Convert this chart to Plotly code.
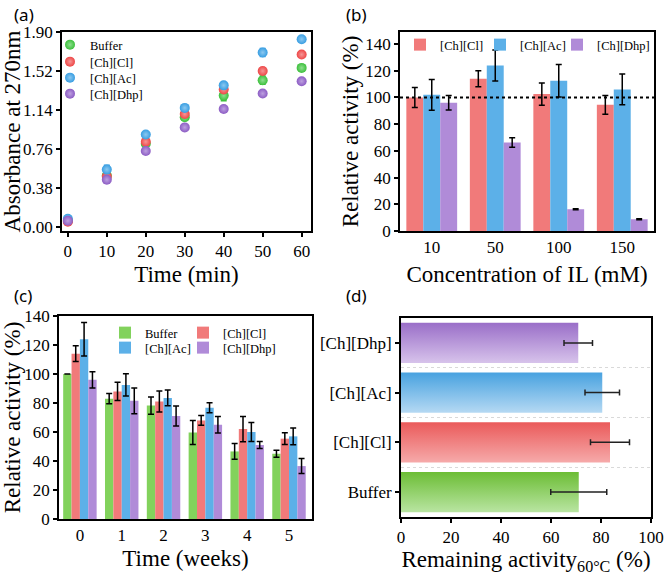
import plotly.graph_objects as go

FONT = "Liberation Serif"

# (a) absorbance at 270 nm vs time
time_min = [0, 10, 20, 30, 40, 50, 60]
abs_buffer = [0.06, 0.50, 0.81, 1.07, 1.28, 1.43, 1.55]
abs_cl = [0.05, 0.49, 0.83, 1.10, 1.34, 1.52, 1.68]
abs_ac = [0.08, 0.56, 0.90, 1.16, 1.38, 1.70, 1.83]
abs_dhp = [0.06, 0.46, 0.74, 0.97, 1.15, 1.30, 1.42]
abs_buffer_err = [0.01, 0.02, 0.02, 0.03, 0.05, 0.04, 0.02]
abs_cl_err = [0.01, 0.02, 0.02, 0.03, 0.03, 0.03, 0.02]
abs_ac_err = [0.02, 0.04, 0.02, 0.02, 0.02, 0.04, 0.02]
abs_dhp_err = [0.01, 0.02, 0.02, 0.02, 0.02, 0.02, 0.02]

# (b) relative activity vs IL concentration
conc_labels = ["10", "50", "100", "150"]
conc_cl = [100, 114, 102.5, 94.5]
conc_cl_err = [7.5, 6, 8.4, 7]
conc_ac = [102, 124, 112.5, 106]
conc_ac_err = [11.5, 11.6, 12.2, 11.5]
conc_dhp = [96, 66.3, 16.3, 8.8]
conc_dhp_err = [5.4, 3.5, 0.4, 0.4]

# (c) relative activity vs storage time
weeks = [0, 1, 2, 3, 4, 5]
wk_buffer = [100, 83, 78.2, 59.7, 46.6, 45]
wk_buffer_err = [0, 3.5, 6, 8.3, 5.4, 2.4]
wk_cl = [114, 88, 81, 68, 62, 55.4]
wk_cl_err = [5.4, 6.3, 7.2, 3.4, 8.7, 4]
wk_ac = [124, 92.5, 83.5, 76.7, 60, 57]
wk_ac_err = [11.6, 7.7, 5.4, 3.5, 6.5, 5.8]
wk_dhp = [96, 81.5, 71, 65, 51, 36.5]
wk_dhp_err = [5.6, 8.9, 6.9, 5.7, 2.4, 5.2]

# (d) remaining activity at 60 C
rem_labels = ["Buffer", "[Ch][Cl]", "[Ch][Ac]", "[Ch][Dhp]"]
rem_values = [71.1, 83.6, 80.5, 70.9]
rem_err = [11.2, 7.8, 6.9, 5.7]

# colours
marker_cols = {"Buffer": "#3cc03c", "[Ch][Cl]": "#ee4646", "[Ch][Ac]": "#389ee2", "[Ch][Dhp]": "#8c5cc4"}
marker_tint = {"Buffer": "#8fdf8f", "[Ch][Cl]": "#f59696", "[Ch][Ac]": "#8cc8f0", "[Ch][Dhp]": "#bda0e0"}
bar_cols = {"Buffer": "#82d25c", "[Ch][Cl]": "#f17a7a", "[Ch][Ac]": "#5cb0e8", "[Ch][Dhp]": "#b08bd8"}
grad_cols = {"Buffer": ("#b9e5a2", "#6cbd35"), "[Ch][Cl]": ("#f6aaaa", "#ea5a5a"),
             "[Ch][Ac]": ("#b5d9f3", "#48a2e0"), "[Ch][Dhp]": ("#d7c3eb", "#9a6ec8")}

W, H = 664, 576


def fx(p):
    return p / W


def fy(p):
    return 1 - p / H


fig = go.Figure()

# ---- (a)  one legend per entry so the rows can sit close together
a_series = [("Buffer", abs_buffer, abs_buffer_err), ("[Ch][Cl]", abs_cl, abs_cl_err),
            ("[Ch][Ac]", abs_ac, abs_ac_err), ("[Ch][Dhp]", abs_dhp, abs_dhp_err)]
for k, (name, ys, es) in enumerate(a_series):
    fig.add_trace(go.Scatter(
        x=time_min, y=ys, mode="markers", name=name, legend="legend" + ("" if k == 0 else str(k + 1)),
        marker=dict(size=10, color=marker_cols[name], line=dict(width=0),
                    gradient=dict(type="radial", color=marker_tint[name])),
        error_y=dict(type="data", array=es, color=marker_cols[name], thickness=1.5, width=3),
        xaxis="x", yaxis="y"))

# ---- (b)
b_series = [("[Ch][Cl]", conc_cl, conc_cl_err), ("[Ch][Ac]", conc_ac, conc_ac_err),
            ("[Ch][Dhp]", conc_dhp, conc_dhp_err)]
for k, (name, ys, es) in enumerate(b_series):
    fig.add_trace(go.Bar(
        x=conc_labels, y=ys, name=name, legend="legend" + str(k + 5), offsetgroup="b" + name,
        marker=dict(color=bar_cols[name], line=dict(width=0)),
        error_y=dict(type="data", array=es, color="black", thickness=1.5, width=3),
        xaxis="x2", yaxis="y2"))

# ---- (c)
c_series = [("Buffer", wk_buffer, wk_buffer_err), ("[Ch][Cl]", wk_cl, wk_cl_err),
            ("[Ch][Ac]", wk_ac, wk_ac_err), ("[Ch][Dhp]", wk_dhp, wk_dhp_err)]
for k, (name, ys, es) in enumerate(c_series):
    fig.add_trace(go.Bar(
        x=weeks, y=ys, name=name, legend="legend" + str(k + 8), offsetgroup="c" + name,
        marker=dict(color=bar_cols[name], line=dict(width=0)),
        error_y=dict(type="data", array=es, color="black", thickness=1.5, width=3),
        xaxis="x3", yaxis="y3"))

# ---- (d) horizontal bars with vertical colour gradient
half = 0.405
for i, (name, v) in enumerate(zip(rem_labels, rem_values)):
    light, dark = grad_cols[name]
    fig.add_trace(go.Scatter(
        x=[0, v, v, 0, 0], y=[i - half, i - half, i + half, i + half, i - half],
        mode="lines", fill="toself", line=dict(width=0), showlegend=False, hoverinfo="skip",
        fillgradient=dict(type="vertical", colorscale=[[0, light], [1, dark]]),
        xaxis="x4", yaxis="y4"))
fig.add_trace(go.Scatter(
    x=rem_values, y=list(range(len(rem_labels))), mode="markers", showlegend=False,
    marker=dict(size=1, color="rgba(0,0,0,0)"),
    error_x=dict(type="data", array=rem_err, color="#222", thickness=1.5, width=3),
    xaxis="x4", yaxis="y4"))

tick_font = dict(family=FONT, size=17, color="black")
title_font = dict(family=FONT, size=23, color="black")
base = dict(showline=True, linecolor="black", linewidth=1.8, mirror=True, ticks="outside",
            ticklen=4, tickwidth=1.5, tickcolor="black", tickfont=tick_font,
            showgrid=False, zeroline=False, automargin=False)

leg_font = dict(family=FONT, size=12.5, color="black")


def leg(xp, yc):
    # xp: left edge of the legend box, yc: centre of its single row (screen px)
    return dict(x=fx(xp), y=fy(yc - 12), xanchor="left", yanchor="top",
                bgcolor="rgba(0,0,0,0)", font=leg_font, itemwidth=30)


legends = {}
# (a) entries
for k, yc in enumerate([42, 59, 75, 91]):
    legends["legend" + ("" if k == 0 else str(k + 1))] = leg(50, yc)
# (b) entries
for k, xp in enumerate([400, 480, 557]):
    legends["legend" + str(k + 5)] = leg(xp, 42)
# (c) entries, two rows of two
for k, (xp, yc) in enumerate([(105, 330), (183, 330), (105, 345), (183, 345)]):
    legends["legend" + str(k + 8)] = leg(xp, yc)

fig.update_layout(
    width=W, height=H, margin=dict(l=0, r=0, t=0, b=0),
    paper_bgcolor="white", plot_bgcolor="white",
    barmode="group", bargap=0.2, bargroupgap=0,
    xaxis=dict(base, domain=[fx(62), fx(311)], anchor="y", range=[-1.5, 62.4],
               tickvals=[0, 10, 20, 30, 40, 50, 60],
               title=dict(text="Time (min)", font=title_font, standoff=6)),
    yaxis=dict(base, domain=[fy(231), fy(32)], anchor="x", range=[-0.04, 1.9],
               tickvals=[0, 0.38, 0.76, 1.14, 1.52, 1.90], tickformat=".2f",
               title=dict(text="Absorbance at 270nm", font=title_font, standoff=2)),
    xaxis2=dict(base, domain=[fx(400), fx(654)], anchor="y2", range=[-0.5, 3.5], ticks="",
                title=dict(text="Concentration of IL (mM)", font=title_font, standoff=10)),
    yaxis2=dict(base, domain=[fy(231), fy(32)], anchor="x2", range=[0, 149], dtick=20,
                title=dict(text="Relative activity (%)", font=title_font, standoff=0)),
    xaxis3=dict(base, domain=[fx(59), fx(312)], anchor="y3", range=[-0.5, 5.55], ticks="",
                tickvals=weeks,
                title=dict(text="Time (weeks)", font=title_font, standoff=6)),
    yaxis3=dict(base, domain=[fy(519), fy(316)], anchor="x3", range=[0, 140], dtick=20,
                title=dict(text="Relative activity (%)", font=title_font, standoff=2)),
    xaxis4=dict(base, domain=[fx(401), fx(651)], anchor="y4", range=[0, 100], dtick=20,
                title=dict(text="Remaining activity<sub>60°C</sub> (%)", font=title_font, standoff=4)),
    yaxis4=dict(base, domain=[fy(517), fy(318)], anchor="x4", range=[-0.5, 3.5],
                tickvals=[0, 1, 2, 3], ticktext=rem_labels,
                minor=dict(tick0=0.5, dtick=1, showgrid=True, gridcolor="#d9d9d9",
                           griddash="dot", gridwidth=1, ticks="")),
    shapes=[dict(type="line", xref="x2 domain", yref="y2", x0=0, x1=1, y0=100, y1=100,
                 line=dict(color="black", width=2, dash="dot"))],
    **legends,
)

for txt, xc, yc in [("(a)", 24, 14), ("(b)", 356, 14), ("(c)", 23, 295), ("(d)", 356, 295)]:
    fig.add_annotation(text=txt, x=fx(xc), y=fy(yc), xref="paper", yref="paper",
                       xanchor="center", yanchor="middle", showarrow=False,
                       font=dict(family="Noto Sans", size=17, color="black"))

# drop the default 8px page margin so the figure fills the window like the original
fig.write_html("out.html", config={"displayModeBar": False},
               post_script="document.body.style.margin = '0';")
